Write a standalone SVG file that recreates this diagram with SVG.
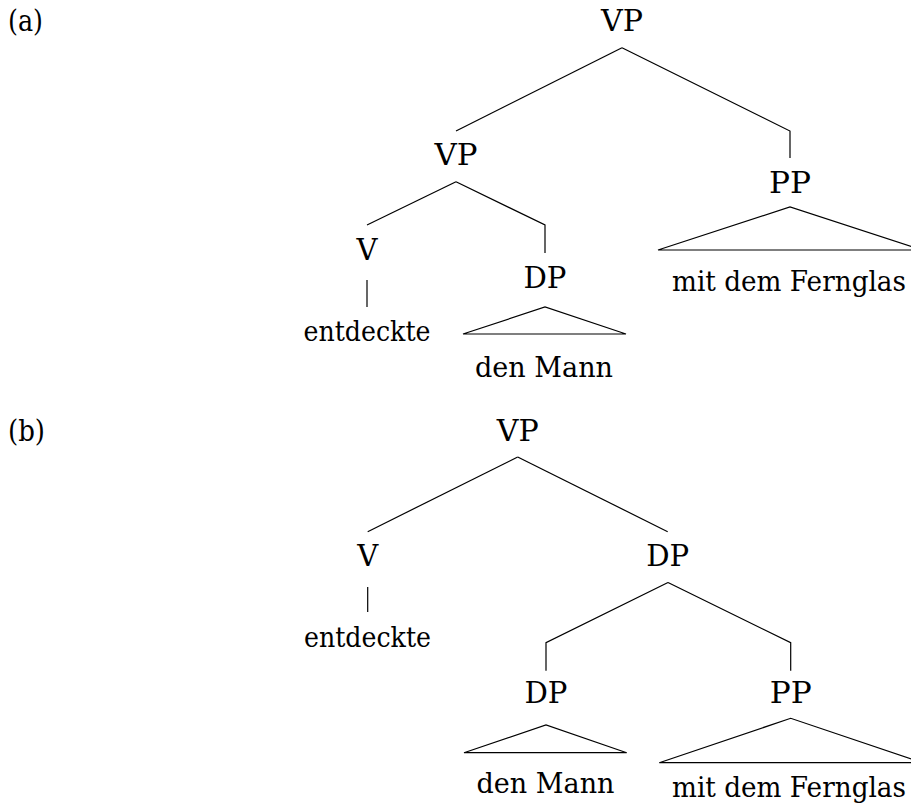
<svg xmlns="http://www.w3.org/2000/svg" width="911" height="809" viewBox="0 0 911 809">
<style>
text{font-family:'DejaVu Serif','Liberation Serif',serif;font-size:30px;fill:#000}
.c{text-anchor:middle}
.w{font-size:27px}
.e{fill:none;stroke:#000;stroke-width:1.2;stroke-linejoin:miter}
</style>
<rect width="911" height="809" fill="#fff"/>
<text id="label-a" x="8" y="31" textLength="35" lengthAdjust="spacingAndGlyphs">(a)</text>
<text id="label-b" x="8" y="441" textLength="37" lengthAdjust="spacingAndGlyphs">(b)</text>
<g id="connectors" class="e">
<path class="e" d="M622,47.7 L456,131"/>
<path class="e" d="M622,47.7 L790,131 L790,158"/>
<path class="e" d="M456,181.7 L367,225"/>
<path class="e" d="M456,181.7 L545,225 L545,253"/>
<path class="e" d="M367,280 L367,307"/>
<path class="e" d="M517.7,457 L367.7,531.7"/>
<path class="e" d="M517.7,457 L667.7,531.7"/>
<path class="e" d="M367.7,587 L367.7,612"/>
<path class="e" d="M668,582.5 L546,642.7 L546,670.7"/>
<path class="e" d="M668,582.5 L790.7,642.7 L790.7,670.7"/>
</g>
<g id="a-VP"><text class="c" x="622" y="31" textLength="42" lengthAdjust="spacingAndGlyphs">VP</text></g>
<g id="a-VP2"><text class="c" x="456" y="165" textLength="43" lengthAdjust="spacingAndGlyphs">VP</text></g>
<g id="a-PP"><text class="c" x="790" y="193" textLength="42" lengthAdjust="spacingAndGlyphs">PP</text>
<path class="e" d="M658,250 L790,207 L922,250 Z"/>
<text class="c w" x="789" y="291" textLength="234" lengthAdjust="spacingAndGlyphs">mit dem Fernglas</text></g>
<g id="a-V"><text class="c" x="367" y="260" textLength="21" lengthAdjust="spacingAndGlyphs">V</text></g>
<g id="a-entdeckte"><text class="c w" x="367" y="341" textLength="127" lengthAdjust="spacingAndGlyphs">entdeckte</text></g>
<g id="a-DP"><text class="c" x="545" y="288" textLength="43" lengthAdjust="spacingAndGlyphs">DP</text>
<path class="e" d="M463,334 L545,307 L626,334 Z"/>
<text class="c w" x="544" y="377" textLength="138" lengthAdjust="spacingAndGlyphs">den Mann</text></g>
<g id="b-VP"><text class="c" x="517.7" y="441" textLength="42" lengthAdjust="spacingAndGlyphs">VP</text></g>
<g id="b-V"><text class="c" x="367.7" y="566" textLength="21" lengthAdjust="spacingAndGlyphs">V</text></g>
<g id="b-entdeckte"><text class="c w" x="367.5" y="647" textLength="127" lengthAdjust="spacingAndGlyphs">entdeckte</text></g>
<g id="b-DP"><text class="c" x="667.7" y="566" textLength="43" lengthAdjust="spacingAndGlyphs">DP</text></g>
<g id="b-DP2"><text class="c" x="546" y="703" textLength="43" lengthAdjust="spacingAndGlyphs">DP</text>
<path class="e" d="M464,752.7 L546,725 L626.7,752.7 Z"/>
<text class="c w" x="545.5" y="793" textLength="138" lengthAdjust="spacingAndGlyphs">den Mann</text></g>
<g id="b-PP"><text class="c" x="790.7" y="703" textLength="42" lengthAdjust="spacingAndGlyphs">PP</text>
<path class="e" d="M659.3,762.7 L790.7,718.3 L922,762.7 Z"/>
<text class="c w" x="789" y="797" textLength="234" lengthAdjust="spacingAndGlyphs">mit dem Fernglas</text></g>
</svg>
